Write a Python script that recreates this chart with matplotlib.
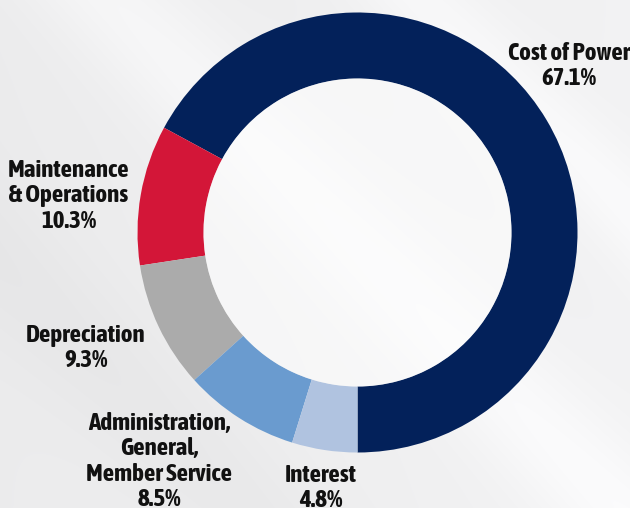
import numpy as np
import matplotlib.pyplot as plt
from matplotlib import font_manager

# Expense breakdown
labels = ["Cost of Power", "Maintenance\n& Operations", "Depreciation",
          "Administration,\nGeneral,\nMember Service", "Interest"]
shares = [67.1, 10.3, 9.3, 8.5, 4.8]
colors = ["#03215A", "#D31638", "#ABABAB", "#6A9BCF", "#B0C3E0"]

# label anchor: center x and baseline of first line (pixels from top-left)
label_pos = [(569, 60), (69, 177), (86, 342), (159, 430), (321, 482)]

names = {f.name for f in font_manager.fontManager.ttflist}
fam = "DejaVu Sans"
for cand in ["Asap Condensed", "Fira Sans Condensed", "PT Sans Narrow",
             "Roboto Condensed", "Barlow Condensed", "Archivo Narrow"]:
    if cand in names:
        fam = cand
        break

W, H = 630, 508
fig = plt.figure(figsize=(W / 100, H / 100), dpi=100)
ax = fig.add_axes([0, 0, 1, 1])

# background: light gray with soft diagonal light streaks
yy, xx = np.mgrid[0:H, 0:W]
diag = xx - yy
bg = 0.925 + 0.025 * (xx / W)
bg = bg + 0.035 * np.exp(-((diag - 110) / 80.0) ** 2)
bg = bg + 0.03 * np.exp(-((diag - 420) / 60.0) ** 2)
bg = bg - 0.02 * np.exp(-((diag + 260) / 90.0) ** 2)
bg = np.clip(bg, 0, 1)
ax.imshow(np.dstack([bg, bg, np.clip(bg + 0.004, 0, 1)]), extent=[0, W, 0, H],
          origin="upper", zorder=0, aspect="auto")

cx, cy = 357.5, H - 232.5
ax.pie(shares, colors=colors, startangle=-90, counterclock=True,
       center=(cx, cy), radius=220,
       wedgeprops=dict(width=66, edgecolor="none"), frame=True)
ax.set_xlim(0, W)
ax.set_ylim(0, H)
ax.set_aspect("equal")
ax.axis("off")

# lighter donut hole
ax.add_patch(plt.Circle((cx, cy), 154, color="white", alpha=0.5, zorder=1, lw=0))

step = 25.3
for lab, val, (x, y) in zip(labels, shares, label_pos):
    lines = lab.split("\n") + [f"{val}%"]
    for i, line in enumerate(lines):
        ax.text(x, H - (y + i * step), line, ha="center", va="baseline",
                fontsize=18, fontweight="bold", family=fam,
                color="#111111", zorder=5)

fig.savefig("out.png", dpi=100)
